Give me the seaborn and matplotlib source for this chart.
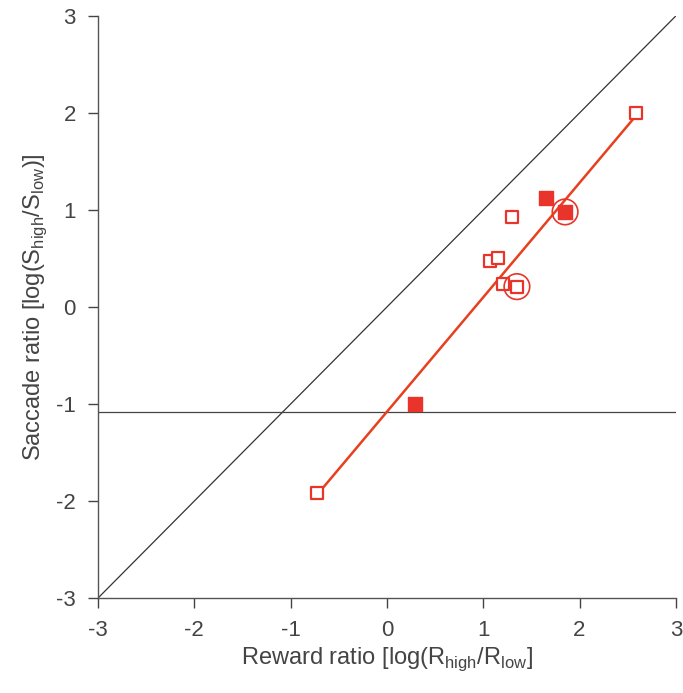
import numpy as np
import pandas as pd
import matplotlib
matplotlib.use('Agg')
import matplotlib.pyplot as plt
import seaborn as sns

# 데이터
reward_ratio = [-0.73, 0.29, 1.07, 1.15, 1.30, 1.21, 1.35, 1.65, 1.85, 2.59]
saccade_ratio = [-1.92, -1.00, 0.47, 0.51, 0.93, 0.24, 0.21, 1.12, 0.98, 2.00]
filled = [False, True, False, False, False, False, False, True, True, False]
circled = [False, False, False, False, False, False, True, False, True, False]
fit_slope = 1.18
fit_intercept = -1.08
fit_range = [-0.72, 2.62]
ticks = [-3, -2, -1, 0, 1, 2, 3]

df = pd.DataFrame({'reward': reward_ratio, 'saccade': saccade_ratio,
                   'filled': filled, 'circled': circled})

sns.set_style('ticks')
plt.rcParams['font.family'] = ['Liberation Sans', 'DejaVu Sans']
plt.rcParams['mathtext.fontset'] = 'custom'
plt.rcParams['mathtext.rm'] = 'Liberation Sans'
plt.rcParams['axes.unicode_minus'] = False

red = '#e8342a'
line_red = '#e8401f'
fig = plt.figure(figsize=(6.83, 6.93), dpi=100)
ax = fig.add_axes([0.1435, 0.137, 0.846, 0.840])

# 대각선 y=x 와 절편 수평선
ax.plot([-3, 3], [-3, 3], color='#333333', lw=0.9, zorder=1)
ax.axhline(fit_intercept, color='#444444', lw=0.9, zorder=1)

# 회귀선
fx = np.array(fit_range)
ax.plot(fx, fit_slope * fx + fit_intercept, color=line_red, lw=1.8, zorder=2)

sns.scatterplot(data=df[~df['filled']], x='reward', y='saccade', ax=ax,
                marker='s', s=85, facecolor='white', edgecolor=red,
                linewidth=1.6, zorder=3)
sns.scatterplot(data=df[df['filled']], x='reward', y='saccade', ax=ax,
                marker='s', s=95, color=red, edgecolor=red,
                linewidth=1.0, zorder=4)
sns.scatterplot(data=df[df['circled']], x='reward', y='saccade', ax=ax,
                marker='o', s=340, facecolor='none', edgecolor=red,
                linewidth=1.2, zorder=5)

ax.set_xlim(-3, 3)
ax.set_ylim(-3, 3)
ax.set_xticks(ticks)
ax.set_yticks(ticks)
ax.tick_params(labelsize=16, colors='#444444', length=7, width=1.0,
               direction='out', pad=9)
for side in ['top', 'right']:
    ax.spines[side].set_visible(False)
for side in ['left', 'bottom']:
    ax.spines[side].set_color('#555555')
    ax.spines[side].set_linewidth(1.0)

ax.set_xlabel(r'Reward ratio [log(R$_\mathregular{high}$/R$_\mathregular{low}$]',
              fontsize=17, color='#444444', labelpad=3)
ax.set_ylabel(r'Saccade ratio [log(S$_\mathregular{high}$/S$_\mathregular{low}$)]',
              fontsize=17, color='#444444', labelpad=5)

fig.savefig('out.png', dpi=100)
